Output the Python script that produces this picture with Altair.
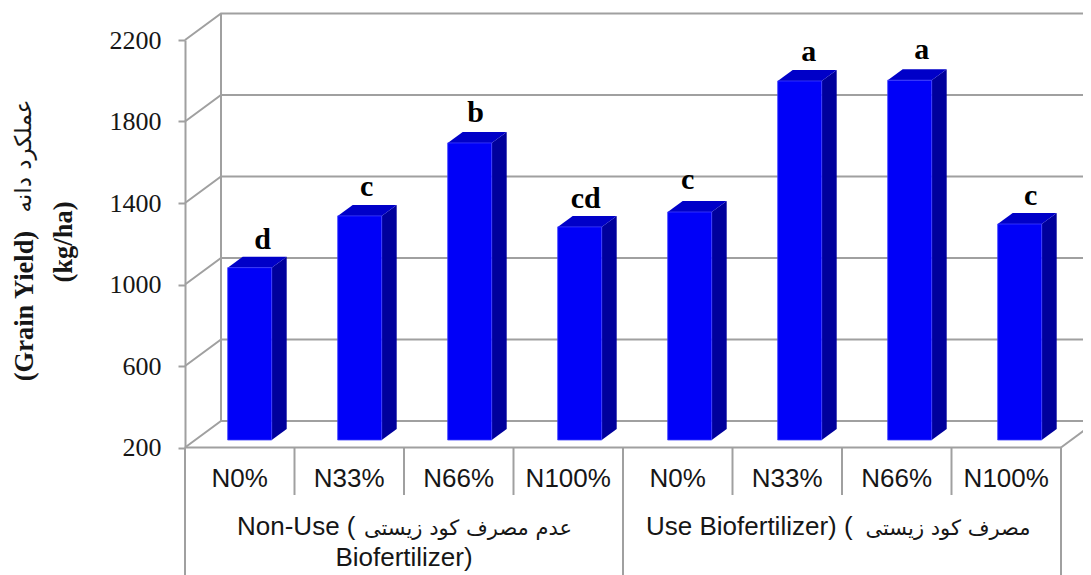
import altair as alt
import pandas as pd

# ---- values
treatments = ["N0%", "N33%", "N66%", "N100%", "N0%", "N33%", "N66%", "N100%"]
yields = [1046, 1300, 1658, 1246, 1319, 1962, 1966, 1260]
letters = ["d", "c", "b", "cd", "c", "a", "a", "c"]
y_ticks = [200, 600, 1000, 1400, 1800, 2200]

# ---- drawing geometry (pixels)
CAT = 109.5          # width of a category
BAR_STEP = 110       # spacing of the bars
PLOT_W = 876
PLOT_H = 407.5
PX_PER_UNIT = PLOT_H / 2000
WALL_DX, WALL_DY = 36, 26.5
BAR_LEFT, BAR_W = 42.7, 44
BAR_DX, BAR_DY = 15, 11
BAR_LIFT = 7.5
LETTER_NUDGE_X = [13, 7, 6, 6, -2, 9, 12, 11]
LETTER_NUDGE_Y = [-19, -20, -21, -19, -23, -20, -21, -19]
GREY = "#a0a0a0"
INK = "#161616"


def X(px):
    return px / CAT


def U(px):
    return px / PX_PER_UNIT


xs = alt.Scale(domain=[0, 8], nice=False, zero=False)
ys = alt.Scale(domain=[200, 2200], nice=False, zero=False)
ex = alt.X("x:Q", scale=xs, axis=None)
ey = alt.Y("y:Q", scale=ys, axis=None)

# walls
wall = []
for v in y_ticks:
    wall += [
        {"k": f"g{v}", "o": 0, "x": 0, "y": v},
        {"k": f"g{v}", "o": 1, "x": X(WALL_DX), "y": v + U(WALL_DY)},
        {"k": f"g{v}", "o": 2, "x": X(906), "y": v + U(WALL_DY)},
    ]
wall += [
    {"k": "back", "o": 0, "x": X(WALL_DX), "y": 200 + U(WALL_DY)},
    {"k": "back", "o": 1, "x": X(WALL_DX), "y": 2200 + U(WALL_DY)},
    {"k": "side", "o": 0, "x": 8, "y": 200},
    {"k": "side", "o": 1, "x": 8 + X(30), "y": 200 + U(30 * WALL_DY / WALL_DX)},
    {"k": "floor", "o": 0, "x": 0, "y": 200},
    {"k": "floor", "o": 1, "x": 8, "y": 200},
]
walls = alt.Chart(pd.DataFrame(wall)).mark_line(color=GREY, strokeWidth=2).encode(
    x=ex,
    y=alt.Y(
        "y:Q",
        scale=ys,
        axis=alt.Axis(
            values=y_ticks,
            title=None,
            grid=False,
            domainColor=GREY,
            domainWidth=2,
            tickColor=GREY,
            tickWidth=2,
            tickSize=7,
            labelPadding=17,
            labelFont="Liberation Serif",
            labelFontSize=26,
            labelColor=INK,
            format="d",
        ),
    ),
    detail="k:N",
    order="o:Q",
)

# bars: the bars stand a little in front of the back wall, lifted above the front axis
lift = U(BAR_LIFT)
front, side, top = [], [], []
for i, v in enumerate(yields):
    L = X(BAR_LEFT + i * BAR_STEP)
    R = L + X(BAR_W)
    d = X(BAR_DX)
    h = U(BAR_DY)
    t = v + lift
    b = 200 + lift
    front.append({"i": i, "x": L, "x2": R, "y": t, "y2": b})
    side += [
        {"i": i, "x": R, "y": t, "y2": b},
        {"i": i, "x": R + d, "y": t + h, "y2": b + h},
    ]
    top += [
        {"i": i, "x": L, "y": t, "y2": t},
        {"i": i, "x": L + d, "y": t + h, "y2": t},
        {"i": i, "x": R, "y": t + h, "y2": t},
        {"i": i, "x": R + d, "y": t + h, "y2": t + h},
    ]

front_layer = alt.Chart(pd.DataFrame(front)).mark_rect(
    color="#0000f8", stroke="#3c3cff", strokeWidth=0.8
).encode(x=ex, x2="x2:Q", y=ey, y2="y2:Q")
side_layer = alt.Chart(pd.DataFrame(side)).mark_area(
    color="#00009c", orient="vertical"
).encode(x=ex, y=ey, y2="y2:Q", detail="i:N")
top_layer = alt.Chart(pd.DataFrame(top)).mark_area(
    color="#0000c8", orient="vertical"
).encode(x=ex, y=ey, y2="y2:Q", detail="i:N")

# significance letters
letters_df = pd.DataFrame(
    {
        "x": [
            X(BAR_LEFT + i * BAR_STEP + BAR_W / 2 + LETTER_NUDGE_X[i])
            for i in range(8)
        ],
        "y": [v + lift - U(LETTER_NUDGE_Y[i]) for i, v in enumerate(yields)],
        "t": letters,
    }
)
letter_layer = alt.Chart(letters_df).mark_text(
    font="Liberation Serif",
    fontWeight="bold",
    fontSize=30,
    color="#000000",
    baseline="alphabetic",
).encode(x=ex, y=ey, text="t:N")

# separators below the axis
sep_layer = alt.Chart(pd.DataFrame({"x": [1, 2, 3, 5, 6, 7]})).mark_rule(
    color=GREY, strokeWidth=2
).encode(x=ex, y=alt.value(PLOT_H), y2=alt.value(455))
major_layer = alt.Chart(pd.DataFrame({"x": [0, 4, 8]})).mark_rule(
    color=GREY, strokeWidth=2
).encode(x=ex, y=alt.value(PLOT_H), y2=alt.value(535))

# category labels
cat_df = pd.DataFrame({"x": [i + 0.5 for i in range(8)], "t": treatments})
cat_layer = alt.Chart(cat_df).mark_text(
    font="Liberation Sans", fontSize=26, color=INK, baseline="alphabetic"
).encode(x=ex, y=alt.value(447), text="t:N")

# group labels
grp_en_df = pd.DataFrame(
    {
        "x": [X(52), X(461)],
        "row": [495, 495],
        "t": ["Non-Use (", "Use Biofertilizer) ("],
    }
)
grp_en = alt.Chart(grp_en_df).mark_text(
    font="Liberation Sans", fontSize=26, color=INK, baseline="alphabetic", align="left"
).encode(x=ex, y=alt.Y("row:Q", scale=None), text="t:N")
grp_fa_df = pd.DataFrame(
    {
        "x": [X(283), X(763)],
        "row": [495, 495],
        "t": ["عدم مصرف کود زیستی", "مصرف کود زیستی"],
    }
)
grp_fa = alt.Chart(grp_fa_df).mark_text(
    font="DejaVu Sans", fontSize=21, color=INK, baseline="alphabetic"
).encode(x=ex, y=alt.Y("row:Q", scale=None), text="t:N")
grp_2 = alt.Chart(pd.DataFrame({"x": [2], "row": [526], "t": ["Biofertilizer)"]})).mark_text(
    font="Liberation Sans", fontSize=26, color=INK, baseline="alphabetic"
).encode(x=ex, y=alt.Y("row:Q", scale=None), text="t:N")

# y title
yt_en_df = pd.DataFrame(
    {"px": [-152, -113], "py": [266, 202], "t": ["(Grain Yield)", "(kg/ha)"]}
)
yt_en = alt.Chart(yt_en_df).mark_text(
    font="Liberation Serif",
    fontWeight="bold",
    fontSize=26.5,
    color=INK,
    angle=270,
    baseline="alphabetic",
).encode(x=alt.X("px:Q", scale=None), y=alt.Y("py:Q", scale=None), text="t:N")
yt_fa_df = pd.DataFrame({"px": [-154], "py": [116], "t": ["عملکرد دانه"]})
yt_fa = alt.Chart(yt_fa_df).mark_text(
    font="DejaVu Sans",
    fontSize=23,
    color=INK,
    angle=270,
    baseline="alphabetic",
).encode(x=alt.X("px:Q", scale=None), y=alt.Y("py:Q", scale=None), text="t:N")

chart = (
    alt.layer(
        walls,
        side_layer,
        top_layer,
        front_layer,
        letter_layer,
        sep_layer,
        major_layer,
        cat_layer,
        grp_en,
        grp_fa,
        grp_2,
        yt_en,
        yt_fa,
    )
    .resolve_scale(x="independent", y="independent")
    .properties(
        width=PLOT_W,
        height=PLOT_H,
        autosize=alt.AutoSizeParams(type="none"),
        padding={"left": 177, "top": 32, "right": 22, "bottom": 127},
        background="white",
    )
    .configure_view(stroke=None)
)
chart.save("out.html", embed_options={"renderer": "svg", "actions": False})
